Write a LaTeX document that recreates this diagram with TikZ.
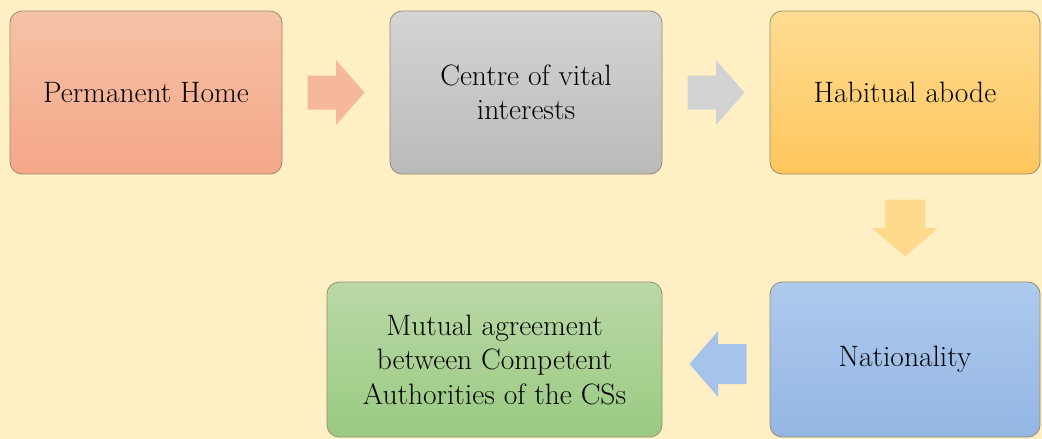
\documentclass[tikz,border=0pt]{standalone}
\usetikzlibrary{calc}
\definecolor{bg}{HTML}{FFEFC4}
\definecolor{edge}{HTML}{9C8C6C}
\definecolor{salT}{HTML}{F6C2A6}\definecolor{salB}{HTML}{F5A689}
\definecolor{gryT}{HTML}{D4D4D4}\definecolor{gryB}{HTML}{BABABA}
\definecolor{yelT}{HTML}{FFDC92}\definecolor{yelB}{HTML}{FEC65C}
\definecolor{bluT}{HTML}{AECAEE}\definecolor{bluB}{HTML}{93B6E3}
\definecolor{grnT}{HTML}{B9D9A6}\definecolor{grnB}{HTML}{9ACA82}
\definecolor{salA}{HTML}{F6B89C}
\definecolor{gryA}{HTML}{D2D2D2}
\definecolor{yelA}{HTML}{FFD98C}
\definecolor{bluA}{HTML}{A6C3E9}
\tikzset{
  box/.style={draw=edge, line width=0.8pt, rounded corners=12pt, align=center,
    inner sep=0pt, font=\fontsize{29.5}{34.5}\selectfont, text=black},
  rarr/.pic={\path[pic actions] (-28.5,-17) -- (0,-17) -- (0,-32.5) -- (28.5,0) -- (0,32.5) -- (0,17) -- (-28.5,17) -- cycle;},
  larr/.pic={\path[pic actions] (28.5,-20) -- (0,-20) -- (0,-33) -- (-28.5,0) -- (0,33) -- (0,20) -- (28.5,20) -- cycle;},
  darr/.pic={\path[pic actions] (-20,-28.5) -- (-20,0) -- (-33,0) -- (0,28.5) -- (33,0) -- (20,0) -- (20,-28.5) -- cycle;},
}
\begin{document}
\begin{tikzpicture}[x=1pt,y=-1pt]
\fill[bg] (0,0) rectangle (1042,439);
\useasboundingbox (0,0) rectangle (1042,439);
\node[box, top color=salT, bottom color=salB, minimum width=272pt, minimum height=163pt] (home) at (146,92.5) {Permanent Home};
\node[box, top color=gryT, bottom color=gryB, minimum width=272pt, minimum height=163pt] (vital) at (526,92.5) {Centre of vital\\interests};
\node[box, top color=yelT, bottom color=yelB, minimum width=270pt, minimum height=163pt] (abode) at (905,92.5) {Habitual abode};
\node[box, top color=bluT, bottom color=bluB, minimum width=270pt, minimum height=155pt] (nat) at (905,359.5) {Nationality};
\node[box, top color=grnT, bottom color=grnB, minimum width=335pt, minimum height=155pt] (mut) at (494.5,359.5) {Mutual agreement\\between Competent\\Authorities of the CSs};
\coordinate (a1) at ($(home.east)!0.5!(vital.west)$);
\coordinate (a2) at ($(vital.east)!0.5!(abode.west)$);
\coordinate (a3) at ($(abode.south)!0.5!(nat.north)$);
\coordinate (a4) at ($(mut.east)!0.5!(nat.west)+(2,4.5)$);
\pic[fill=salA] at (a1) {rarr};
\pic[fill=gryA] at (a2) {rarr};
\pic[fill=yelA] at (a3) {darr};
\pic[fill=bluA] at (a4) {larr};
\end{tikzpicture}
\end{document}
